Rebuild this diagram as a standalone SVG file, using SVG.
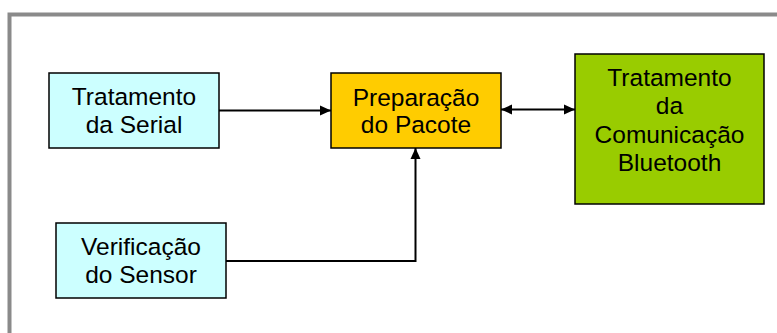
<svg xmlns="http://www.w3.org/2000/svg" width="777" height="333" viewBox="0 0 777 333">
  <defs>
    <style>
      .box { stroke: #000; stroke-width: 1.5; }
      .lbl { font-family: "Liberation Sans", Arial, sans-serif; font-size: 24.5px; fill: #000; text-anchor: middle; }
      .conn { fill: none; stroke: #000; stroke-width: 2; }
    </style>
    <marker id="arrowEnd" markerUnits="userSpaceOnUse" markerWidth="12" markerHeight="12" viewBox="0 0 12 12" refX="11" refY="6" orient="auto">
      <path d="M0,1 L11,6 L0,11 Z" fill="#000"/>
    </marker>
    <marker id="arrowStart" markerUnits="userSpaceOnUse" markerWidth="12" markerHeight="12" viewBox="0 0 12 12" refX="1" refY="6" orient="auto">
      <path d="M12,1 L1,6 L12,11 Z" fill="#000"/>
    </marker>
  </defs>
  <rect width="777" height="333" fill="#fff"/>
  <rect id="frame" x="9.5" y="14.5" width="800" height="360" fill="none" stroke="#8a8a8a" stroke-width="4"/>

  <g id="connectors">
    <line class="conn" x1="219" y1="110.5" x2="331" y2="110.5" marker-end="url(#arrowEnd)"/>
    <line class="conn" x1="501" y1="109.5" x2="575" y2="109.5" marker-start="url(#arrowStart)" marker-end="url(#arrowEnd)"/>
    <path class="conn" d="M226,261 H415.5 V148" marker-end="url(#arrowEnd)"/>
  </g>

  <g id="node-serial">
    <rect class="box" x="49" y="73" width="170" height="75" fill="#CCFFFF"/>
    <text class="lbl" x="134" y="105">Tratamento</text>
    <text class="lbl" x="134" y="133">da Serial</text>
  </g>

  <g id="node-pacote">
    <rect class="box" x="331" y="73" width="170" height="75" fill="#FFCC00"/>
    <text class="lbl" x="416" y="105.5">Preparação</text>
    <text class="lbl" x="416" y="133">do Pacote</text>
  </g>

  <g id="node-bluetooth">
    <rect class="box" x="575" y="54" width="189" height="150" fill="#99CC00"/>
    <text class="lbl" x="669.5" y="86">Tratamento</text>
    <text class="lbl" x="669.5" y="114">da</text>
    <text class="lbl" x="669.5" y="142.5">Comunicação</text>
    <text class="lbl" x="669.5" y="171">Bluetooth</text>
  </g>

  <g id="node-sensor">
    <rect class="box" x="56" y="223" width="170" height="75" fill="#CCFFFF"/>
    <text class="lbl" x="141" y="255">Verificação</text>
    <text class="lbl" x="141" y="283">do Sensor</text>
  </g>
</svg>
